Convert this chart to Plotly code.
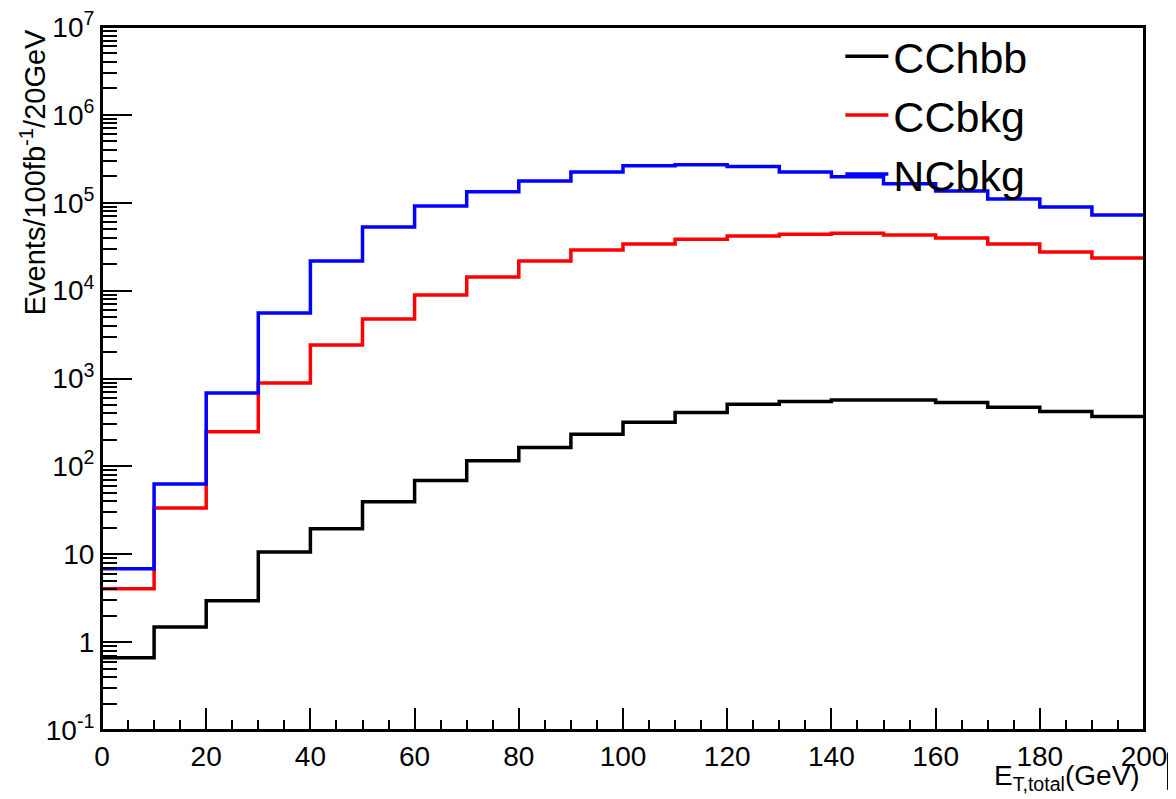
import plotly.graph_objects as go

# Bin edges (GeV)
bin_edges = [0, 10, 20, 30, 40, 50, 60, 70, 80, 90, 100,
             110, 120, 130, 140, 150, 160, 170, 180, 190, 200]

# Events per bin
cchbb = [0.662, 1.49, 2.95, 10.6, 19.5, 39.5, 68.9, 116, 164, 232,
         318, 409, 510, 546, 571, 571, 532, 472, 420, 369]
ccbkg = [4.04, 33.7, 247, 891, 2410, 4760, 8930, 14300, 21800, 29000,
         34000, 38400, 41900, 43800, 45000, 43000, 39800, 34000, 27500, 23500]
ncbkg = [6.82, 63.2, 686, 5570, 21800, 53100, 92000, 133000, 177000, 224000,
         264000, 271000, 258000, 224000, 198000, 164000, 136000, 110000, 89500, 72600]

series_names = ["CChbb", "CCbkg", "NCbkg"]
series_colors = ["#000000", "#ff0000", "#0000ff"]

y_tick_vals = [0.1, 1, 10, 100, 1e3, 1e4, 1e5, 1e6, 1e7]
y_tick_text = ["10<sup>-1</sup>", "1", "10", "10<sup>2</sup>", "10<sup>3</sup>",
               "10<sup>4</sup>", "10<sup>5</sup>", "10<sup>6</sup>", "10<sup>7</sup>"]
x_tick_vals = [0, 20, 40, 60, 80, 100, 120, 140, 160, 180, 200]

FONT = "Liberation Sans, Arial, Helvetica, sans-serif"

fig = go.Figure()
for name, vals, col in zip(series_names, [cchbb, ccbkg, ncbkg], series_colors):
    fig.add_trace(go.Scatter(
        x=bin_edges, y=vals + [vals[-1]], mode="lines", line_shape="hv",
        name=name, line=dict(color=col, width=3.5),
    ))

minor_y = [m * d for d in y_tick_vals[:-1] for m in range(2, 10)]

fig.update_layout(
    width=1176, height=799,
    margin=dict(l=94, r=40, t=19, b=77, autoexpand=False),
    paper_bgcolor="white", plot_bgcolor="white",
    font=dict(family=FONT, color="black", size=28),
    showlegend=True,
    legend=dict(x=0.7086, y=1.0075, xanchor="left", yanchor="top",
                bgcolor="rgba(0,0,0,0)", font=dict(size=43, family=FONT),
                itemwidth=43, tracegroupgap=0),
    xaxis=dict(range=[0, 200], tickmode="array", tickvals=x_tick_vals,
               ticks="inside", ticklen=22, tickwidth=1.5, tickcolor="black",
               showline=True, linecolor="black", linewidth=2, mirror=True,
               showgrid=False, zeroline=False, automargin=False,
               ticklabeloverflow="allow",
               tickfont=dict(size=28, family=FONT),
               minor=dict(dtick=5, ticks="inside", ticklen=10, tickwidth=1.5,
                          tickcolor="black", showgrid=False)),
    yaxis=dict(type="log", range=[-1, 7], tickmode="array",
               tickvals=y_tick_vals, ticktext=y_tick_text,
               ticks="inside", ticklen=30, tickwidth=1.5, tickcolor="black",
               showline=True, linecolor="black", linewidth=2, mirror=True,
               showgrid=False, zeroline=False, automargin=False,
               ticklabeloverflow="allow",
               tickfont=dict(size=28, family=FONT),
               minor=dict(tickmode="array", tickvals=minor_y, ticks="inside",
                          ticklen=15, tickwidth=1.5, tickcolor="black",
                          showgrid=False)),
)

# plot frame
fig.add_shape(type="rect", xref="paper", yref="paper", x0=0, x1=1, y0=0, y1=1,
              line=dict(color="black", width=2), fillcolor="rgba(0,0,0,0)",
              layer="above")

fig.add_annotation(text="Events/100fb<sup>-1</sup>/20GeV", textangle=-90,
                   xref="paper", yref="paper", x=-0.066, y=1.0,
                   xanchor="center", yanchor="top", showarrow=False,
                   font=dict(size=29, family=FONT))
fig.add_annotation(text="E<sub>T,total</sub>(GeV)",
                   xref="paper", yref="paper", x=0.998, y=-0.068,
                   xanchor="right", yanchor="middle", showarrow=False,
                   font=dict(size=28, family=FONT))
fig.add_shape(type="line", xref="paper", yref="paper",
              x0=1.0245, x1=1.0245, y0=-0.032, y1=-0.085,
              line=dict(color="black", width=5))

fig.write_html("out.html")
